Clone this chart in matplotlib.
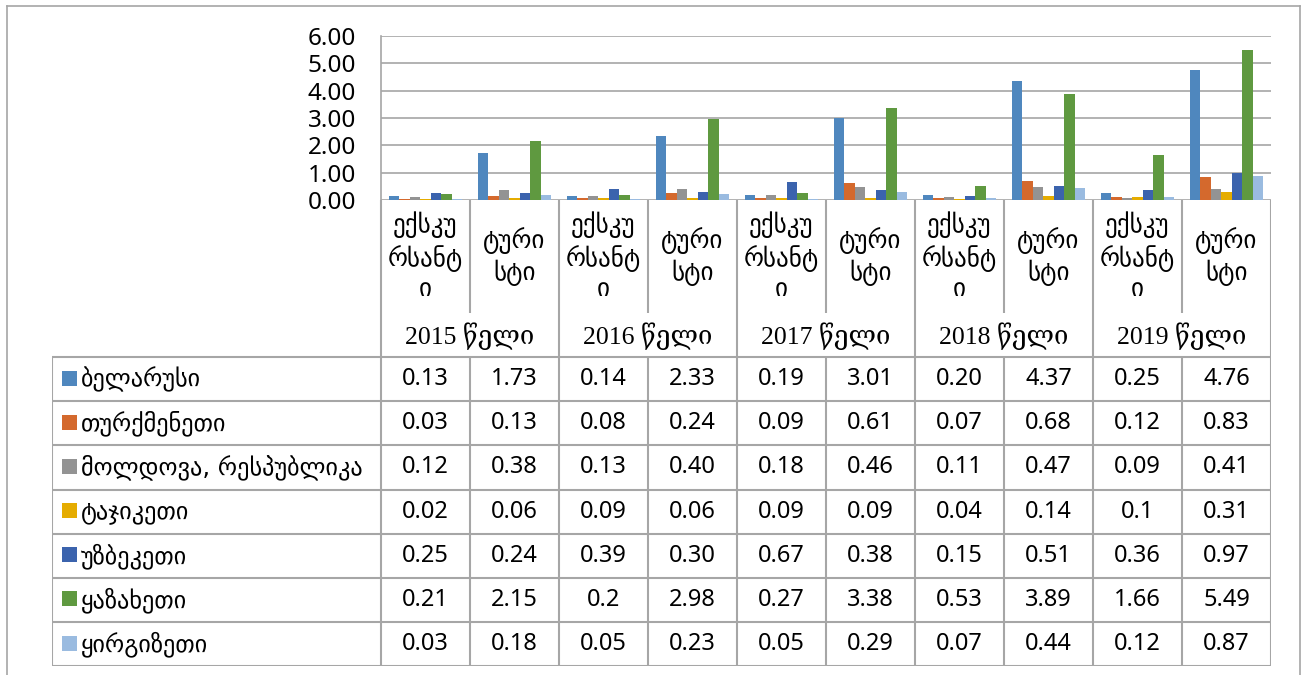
import matplotlib
matplotlib.use("Agg")
import matplotlib.pyplot as plt
from matplotlib.lines import Line2D
import numpy as np

# categories (two per year) and years
cat_labels = ["ექსკუ\nრსანტ\nი", "ტური\nსტი"] * 5
years = ["2015 წელი", "2016 წელი", "2017 წელი", "2018 წელი", "2019 წელი"]

series_names = [
    "ბელარუსი",
    "თურქმენეთი",
    "მოლდოვა, რესპუბლიკა",
    "ტაჯიკეთი",
    "უზბეკეთი",
    "ყაზახეთი",
    "ყირგიზეთი",
]

# values as printed in the data table
belarus = ["0.13", "1.73", "0.14", "2.33", "0.19", "3.01", "0.20", "4.37", "0.25", "4.76"]
turkmenistan = ["0.03", "0.13", "0.08", "0.24", "0.09", "0.61", "0.07", "0.68", "0.12", "0.83"]
moldova = ["0.12", "0.38", "0.13", "0.40", "0.18", "0.46", "0.11", "0.47", "0.09", "0.41"]
tajikistan = ["0.02", "0.06", "0.09", "0.06", "0.09", "0.09", "0.04", "0.14", "0.1", "0.31"]
uzbekistan = ["0.25", "0.24", "0.39", "0.30", "0.67", "0.38", "0.15", "0.51", "0.36", "0.97"]
kazakhstan = ["0.21", "2.15", "0.2", "2.98", "0.27", "3.38", "0.53", "3.89", "1.66", "5.49"]
kyrgyzstan = ["0.03", "0.18", "0.05", "0.23", "0.05", "0.29", "0.07", "0.44", "0.12", "0.87"]

series = [belarus, turkmenistan, moldova, tajikistan, uzbekistan, kazakhstan, kyrgyzstan]
colors = ["#4F87BE", "#D4692D", "#939393", "#E5AC00", "#3B63AD", "#5F9940", "#9ABBE0"]

NUM_FONT = ["Noto Sans", "DejaVu Sans"]
GEO_FONT = ["DejaVu Sans"]
YEAR_FONT = ["Liberation Serif", "DejaVu Serif", "DejaVu Sans"]
LINE_C = "#A6A6A6"

W, H = 1304, 675
fig = plt.figure(figsize=(W / 100, H / 100), dpi=100)

# pixel layout
px_left, px_right = 381, 1271
px_top, px_zero = 36, 200
tbl_left, tbl_bottom = 52, 666

# ---- bar chart ----
ax = fig.add_axes([px_left / W, 1 - px_zero / H, (px_right - px_left) / W, (px_zero - px_top) / H])
n_cat = len(cat_labels)
n_ser = len(series)
x = np.arange(n_cat) + 0.5
bw = 0.83 / n_ser
for i, (vals, c) in enumerate(zip(series, colors)):
    v = [float(s) for s in vals]
    ax.bar(x + (i - (n_ser - 1) / 2) * bw, v, width=bw, color=c, zorder=3)

ax.set_xlim(0, n_cat)
ax.set_ylim(0, 6)
ax.set_yticks(np.arange(0, 7, 1))
ax.set_yticklabels(["%.2f" % t for t in np.arange(0, 7, 1)], fontsize=17.5, family=NUM_FONT)
ax.tick_params(axis="y", length=0, pad=18)
ax.set_xticks([])
ax.grid(axis="y", color=LINE_C, lw=1.2, zorder=0)
for s in ["top", "right", "bottom"]:
    ax.spines[s].set_visible(False)
ax.spines["left"].set_color(LINE_C)
ax.spines["left"].set_linewidth(1.2)

# ---- data table under the chart ----
tx = fig.add_axes([tbl_left / W, 1 - tbl_bottom / H, (px_right - tbl_left) / W, (tbl_bottom - px_zero) / H])
row_h = 44.1
hdr_cat = 113 / row_h
hdr_year = 1.0
total = hdr_cat + hdr_year + n_ser
lab_w = (px_left - tbl_left) / ((px_right - px_left) / n_cat)
tx.set_xlim(-lab_w, n_cat)
tx.set_ylim(total, 0)
tx.axis("off")

lk = dict(color=LINE_C, lw=1.5, solid_capstyle="butt")
# header verticals
for k in range(n_cat + 1):
    y_end = hdr_cat + hdr_year if k % 2 == 0 else hdr_cat
    tx.add_line(Line2D([k, k], [0, y_end], **lk))
# body verticals
tx.add_line(Line2D([-lab_w, -lab_w], [hdr_cat + hdr_year, total], **lk))
for k in range(n_cat + 1):
    tx.add_line(Line2D([k, k], [hdr_cat + hdr_year, total], **lk))
# horizontals
for r in range(n_ser + 1):
    yy = hdr_cat + hdr_year + r
    tx.add_line(Line2D([-lab_w, n_cat], [yy, yy], **lk))

# category and year labels
for k, lab in enumerate(cat_labels):
    tx.text(k + 0.5, hdr_cat / 2, lab, ha="center", va="center", fontsize=18,
            family=GEO_FONT, linespacing=1.3)
for j, yr in enumerate(years):
    tx.text(2 * j + 1, hdr_cat + hdr_year / 2 + 0.02, yr, ha="center", va="center",
            fontsize=18.5, family=YEAR_FONT)

# series rows
for r, (name, vals, c) in enumerate(zip(series_names, series, colors)):
    yc = hdr_cat + hdr_year + r + 0.5
    tx.add_patch(plt.Rectangle((-lab_w + 0.11, yc - 0.19), 0.17, 0.34, color=c, lw=0))
    tx.text(-lab_w + 0.33, yc, name, ha="left", va="center", fontsize=17.5, family=GEO_FONT)
    for k, s in enumerate(vals):
        tx.text(k + 0.5, yc, s, ha="center", va="center", fontsize=17, family=NUM_FONT)

# outer chart border (left, top, right)
fig.add_artist(Line2D([7 / W, 7 / W], [0, 1 - 6 / H], color=LINE_C, lw=1.2, transform=fig.transFigure))
fig.add_artist(Line2D([7 / W, 1300 / W], [1 - 6 / H, 1 - 6 / H], color=LINE_C, lw=1.2, transform=fig.transFigure))
fig.add_artist(Line2D([1300 / W, 1300 / W], [0, 1 - 6 / H], color=LINE_C, lw=1.2, transform=fig.transFigure))

fig.savefig("out.png", dpi=100)
